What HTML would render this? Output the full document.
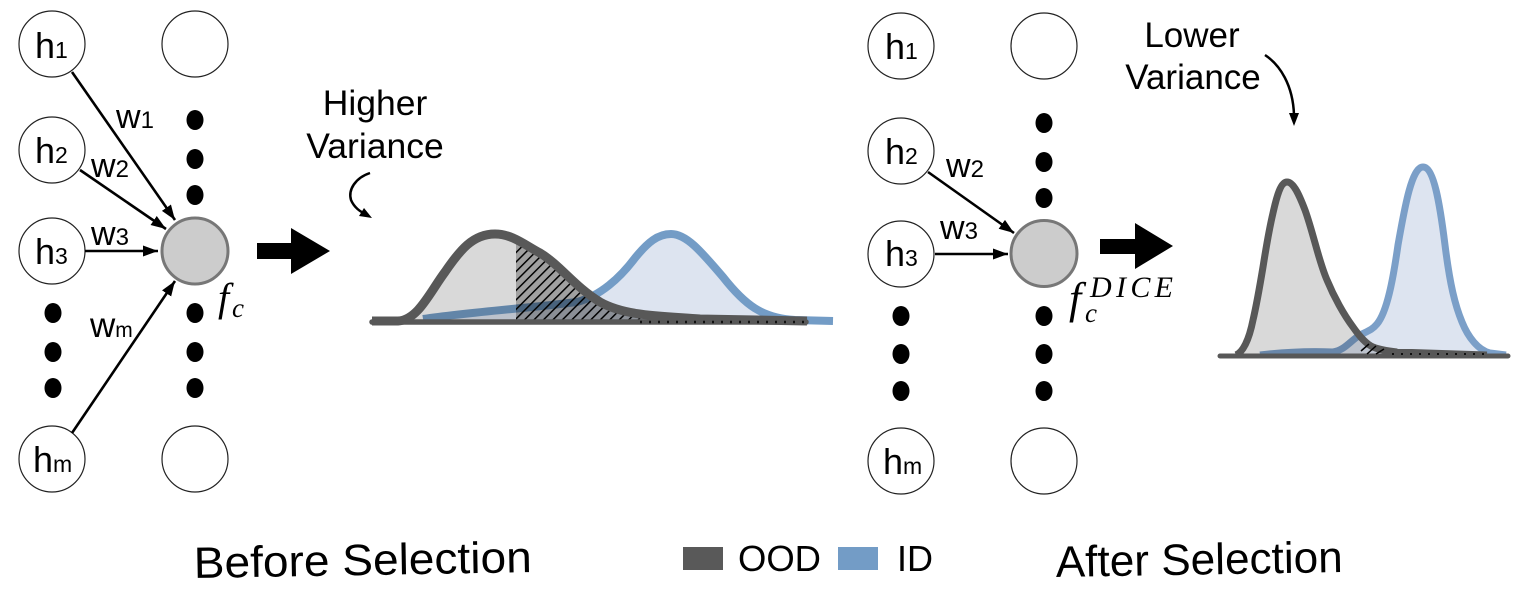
<!DOCTYPE html>
<html><head><meta charset="utf-8">
<style>
html,body{margin:0;padding:0;background:#fff;width:1522px;height:591px;overflow:hidden}
svg{display:block}
text{font-family:"Liberation Sans",sans-serif;fill:#000}
.m{font-family:"Liberation Serif",serif;font-style:italic}
.mul{mix-blend-mode:multiply}
</style></head><body>
<svg width="1522" height="591" viewBox="0 0 1522 591" xmlns="http://www.w3.org/2000/svg">
<defs>
<pattern id="h" width="6.7" height="6.7" patternUnits="userSpaceOnUse" patternTransform="rotate(-45)">
<rect width="6.7" height="6.7" fill="#bcbcbc"/><rect width="6.7" height="1.5" fill="#000"/>
</pattern>
<marker id="a" markerUnits="userSpaceOnUse" markerWidth="16" markerHeight="12" refX="15" refY="5.5" orient="auto"><path d="M0,0 L15,5.5 L0,11 Z" fill="#000"/></marker>
<clipPath id="hc"><rect x="516" y="200" width="300" height="130"/></clipPath>
</defs>

<g fill="#fff" stroke="#222" stroke-width="1.2">
<circle cx="52" cy="44" r="33"/><circle cx="52" cy="150" r="33"/><circle cx="52" cy="251" r="33"/><circle cx="52" cy="459" r="33"/>
<circle cx="195" cy="44" r="33"/><circle cx="195" cy="459" r="33"/>
<circle cx="901" cy="46" r="33"/><circle cx="901" cy="151" r="33"/><circle cx="901" cy="254" r="33"/><circle cx="901" cy="461" r="33"/>
<circle cx="1044" cy="46" r="33"/><circle cx="1044" cy="461" r="33"/>
</g>
<g fill="#ccc" stroke="#777" stroke-width="3">
<circle cx="195" cy="251" r="33"/><circle cx="1044" cy="253.500" r="33"/>
</g>
<g fill="#000">
<ellipse cx="195" cy="120" rx="8.500" ry="10"/><ellipse cx="195" cy="159" rx="8.500" ry="10"/><ellipse cx="195" cy="195" rx="8.500" ry="10"/>
<ellipse cx="195" cy="313" rx="8.500" ry="10"/><ellipse cx="195" cy="352" rx="8.500" ry="10"/><ellipse cx="195" cy="388" rx="8.500" ry="10"/>
<ellipse cx="53" cy="313" rx="8.500" ry="10"/><ellipse cx="53" cy="352" rx="8.500" ry="10"/><ellipse cx="53" cy="388" rx="8.500" ry="10"/>
<ellipse cx="1044" cy="123" rx="8.500" ry="10"/><ellipse cx="1044" cy="162" rx="8.500" ry="10"/><ellipse cx="1044" cy="198" rx="8.500" ry="10"/>
<ellipse cx="1044" cy="316" rx="8.500" ry="10"/><ellipse cx="1044" cy="354" rx="8.500" ry="10"/><ellipse cx="1044" cy="391" rx="8.500" ry="10"/>
<ellipse cx="901" cy="316" rx="8.500" ry="10"/><ellipse cx="901" cy="354" rx="8.500" ry="10"/><ellipse cx="901" cy="391" rx="8.500" ry="10"/>
</g>

<g stroke="#000" stroke-width="2.600" fill="none">
<line x1="72" y1="72" x2="175" y2="220" marker-end="url(#a)"/>
<line x1="80" y1="170" x2="166" y2="229" marker-end="url(#a)"/>
<line x1="85" y1="251" x2="158" y2="251" marker-end="url(#a)"/>
<line x1="72" y1="433" x2="175" y2="281" marker-end="url(#a)"/>
<line x1="928" y1="172" x2="1014" y2="233" marker-end="url(#a)"/>
<line x1="935" y1="254" x2="1008" y2="254" marker-end="url(#a)"/>
</g>

<path d="M257,243 H291 V228 L330,251 L291,274 V259 H257 Z" fill="#000"/>
<path d="M1100,239 H1135 V223 L1173,246 L1135,269 V254 H1100 Z" fill="#000"/>

<!-- left distributions -->
<path d="M423,319 C470,312 530,308 577,302 C600,296 620,278 635,258 C648,242 658,234 671,234 C686,234 700,250 723,277 C745,305 762,318 795,321 Z" fill="#dde4f0"/>
<path d="M423,319 C470,312 530,308 577,302 C600,296 620,278 635,258 C648,242 658,234 671,234 C686,234 700,250 723,277 C745,305 762,318 795,320 L833,321" fill="none" stroke="#739cc6" stroke-width="8"/>
<path class="mul" d="M398,321 C418,320 430,292 445,272 C460,250 473,234 495,234 C512,234 525,245 540,253 C560,265 575,287 600,302 C625,316 660,316 700,319 L807,321 Z" fill="#d9d9d9"/>
<path class="mul" d="M398,321 C418,320 430,292 445,272 C460,250 473,234 495,234 C512,234 525,245 540,253 C560,265 575,287 600,302 C625,316 660,316 700,319 L807,324 L398,324 Z" fill="url(#h)" clip-path="url(#hc)"/>
<path d="M372,321 L398,321 C418,320 430,292 445,272 C460,250 473,234 495,234 C512,234 525,245 540,253 C560,265 575,287 600,302 C625,316 660,316 700,319 L807,321" fill="none" stroke="#585858" stroke-width="9" stroke-linejoin="round"/>
<path d="M372,322 H806" stroke="#585858" stroke-width="5.500" fill="none" stroke-linecap="round"/>
<path d="M640,322 H806" stroke="#000" stroke-width="2.500" stroke-dasharray="2 7" opacity=".8"/>

<!-- right distributions -->
<path d="M1260,355 C1285,352 1310,351 1333,352 C1345,350 1350,341 1360,335 C1368,331 1372,330 1377,324 C1387,312 1393,280 1398,245 C1405,205 1412,167 1423,167 C1434,167 1440,205 1445,245 C1450,285 1455,305 1462,322 C1468,337 1478,350 1490,353 L1506,355 Z" fill="#dde4f0"/>
<path d="M1260,355 C1285,352 1310,351 1333,352 C1345,350 1350,341 1360,335 C1368,331 1372,330 1377,324 C1387,312 1393,280 1398,245 C1405,205 1412,167 1423,167 C1434,167 1440,205 1445,245 C1450,285 1455,305 1462,322 C1468,337 1478,350 1490,353 L1506,355" fill="none" stroke="#7b9fc8" stroke-width="7"/>
<path class="mul" d="M1236,355 C1243,352 1249,340 1253,320 C1257,303 1260,285 1263,267 C1266,248 1269,230 1273,213 C1277,195 1281,182 1287,182 C1294,182 1300,197 1305,210 C1313,232 1319,262 1327,280 C1334,297 1344,315 1353,327 C1360,337 1366,344 1373,347 C1380,350 1388,351 1397,352 L1487,355 Z" fill="#d9d9d9"/>
<path d="M1236,355 C1243,352 1249,340 1253,320 C1257,303 1260,285 1263,267 C1266,248 1269,230 1273,213 C1277,195 1281,182 1287,182 C1294,182 1300,197 1305,210 C1313,232 1319,262 1327,280 C1334,297 1344,315 1353,327 C1360,337 1366,344 1373,347 C1380,350 1388,351 1397,352 L1487,355" fill="none" stroke="#585858" stroke-width="7"/>
<path d="M1220,356 H1508" stroke="#585858" stroke-width="5" stroke-linecap="round"/>
<path d="M1361,351 L1369,344 M1367,354 L1376,346 M1376,354 L1384,349" stroke="#000" stroke-width="1.500"/>
<path d="M1392,354 H1490" stroke="#000" stroke-width="2" stroke-dasharray="2 7" opacity=".8"/>

<!-- curved pointers -->
<path d="M370,173 C355,178 348,190 351,200 C354,207 360,212 366,214" fill="none" stroke="#000" stroke-width="2.500"/>
<path d="M372,218 L364,208 L359,216 Z" fill="#000"/>
<path d="M1265,55 C1280,65 1293,85 1294,115" fill="none" stroke="#000" stroke-width="2.500"/>
<path d="M1294,126 L1289,113 L1299,113 Z" fill="#000"/>

<!-- node labels -->
<g font-size="36">
<text x="35" y="58">h<tspan font-size="23">1</tspan></text>
<text x="35" y="163">h<tspan font-size="23">2</tspan></text>
<text x="35" y="264">h<tspan font-size="23">3</tspan></text>
<text x="33" y="472">h<tspan font-size="23">m</tspan></text>
<text x="885" y="59">h<tspan font-size="23">1</tspan></text>
<text x="885" y="164">h<tspan font-size="23">2</tspan></text>
<text x="885" y="266">h<tspan font-size="23">3</tspan></text>
<text x="883" y="474">h<tspan font-size="23">m</tspan></text>
</g>
<g font-size="34">
<text x="116" y="128">w<tspan font-size="24">1</tspan></text>
<text x="91" y="177">w<tspan font-size="24">2</tspan></text>
<text x="91" y="245">w<tspan font-size="24">3</tspan></text>
<text x="90" y="337" font-size="35">w<tspan font-size="21">m</tspan></text>
<text x="946" y="177">w<tspan font-size="24">2</tspan></text>
<text x="940" y="239">w<tspan font-size="24">3</tspan></text>
</g>

<text class="m" x="218" y="311" font-size="40">f</text>
<text class="m" x="232" y="317" font-size="27">c</text>
<text class="m" x="1069" y="313" font-size="44">f</text>
<text class="m" x="1085" y="322" font-size="27">c</text>
<text class="m" x="1090" y="297" font-size="30" textLength="83">DICE</text>

<text x="375" y="115" font-size="35.500" text-anchor="middle">Higher</text>
<text x="375" y="158" font-size="35.500" text-anchor="middle">Variance</text>
<text x="1192" y="47" font-size="35" text-anchor="middle">Lower</text>
<text x="1193" y="89" font-size="35" text-anchor="middle">Variance</text>

<text x="194" y="578" font-size="44" textLength="338" lengthAdjust="spacingAndGlyphs" transform="rotate(-1 194 578)">Before Selection</text>
<text x="1056" y="577" font-size="44" textLength="287" lengthAdjust="spacingAndGlyphs" transform="rotate(-1 1056 577)">After Selection</text>

<rect x="683" y="547" width="40" height="23" fill="#595959"/>
<text x="738" y="571" font-size="36" textLength="83" lengthAdjust="spacingAndGlyphs">OOD</text>
<rect x="838" y="547" width="40" height="23" fill="#739cc6"/>
<text x="897" y="571" font-size="36">ID</text>
</svg>
</body></html>
